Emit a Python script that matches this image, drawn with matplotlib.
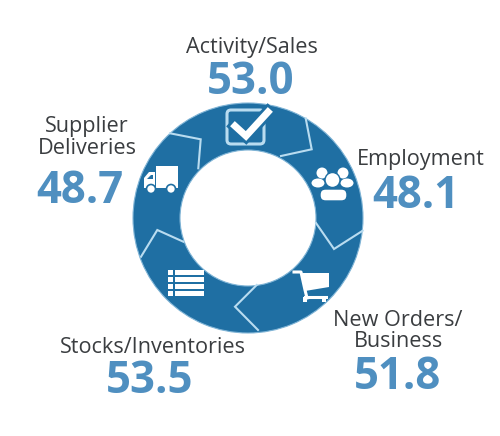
import numpy as np
import matplotlib
matplotlib.use("Agg")
import matplotlib.pyplot as plt
from matplotlib.patches import Circle, Wedge, Rectangle, FancyBboxPatch, Ellipse, Polygon

categories = ["Activity/Sales", "Employment", "New Orders/\nBusiness", "Stocks/Inventories", "Supplier\nDeliveries"]
values = [53.0, 48.1, 51.8, 53.5, 48.7]

label_xy = [(252, 47), (421, 159.5), (398, 331), (153, 347), (87, 137.5)]
value_xy = [(250.5, 82.5), (416, 196), (397, 377), (150, 381), (80, 191.5)]

RING = "#1f6fa3"
EDGE = "#b9dcf0"
VALUE = "#4f8fc0"
TEXT = "#3a3d40"
cx, cy, R, r = 248, 218, 115, 68

plt.rcParams["font.family"] = ["Open Sans", "DejaVu Sans"]
fig = plt.figure(figsize=(5, 4.36), dpi=100)
ax = fig.add_axes([0, 0, 1, 1])
ax.set_xlim(0, 500)
ax.set_ylim(436, 0)
ax.axis("off")

ax.add_patch(Wedge((cx, cy), R, 0, 360, width=R - r, facecolor=RING, edgecolor="#7fb4d6", lw=0.8))

dividers = [
    [(281, 156), (311.7, 149.3), (305.7, 118.3)],
    [(316, 223), (334, 249), (362.7, 230.7)],
    [(256.7, 285), (235, 306.7), (258, 330)],
    [(183.3, 241.7), (157.3, 230), (141, 256.7)],
    [(198.3, 168.3), (200.7, 139.3), (170, 133.3)],
]
for d in dividers:
    xs, ys = zip(*d)
    ax.plot(xs, ys, color=EDGE, lw=1.5, solid_joinstyle="miter", zorder=3)

W = "white"
# checkbox icon
ax.add_patch(FancyBboxPatch((227, 110), 37, 34, boxstyle="round,pad=0,rounding_size=4",
                            fc="none", ec=EDGE, lw=2.2, zorder=4))
ax.plot([235, 246, 268], [126, 136, 112], color=RING, lw=9, solid_joinstyle="miter", zorder=4.5)
ax.plot([235, 246, 268], [126, 136, 112], color=W, lw=5, solid_joinstyle="miter", zorder=5)

# truck icon
ax.add_patch(Rectangle((156, 166), 22, 22, fc=W, ec="none", zorder=4))
ax.add_patch(Polygon([(144, 188), (144, 178), (149, 172), (155, 172), (155, 188)], fc=W, ec="none", zorder=4))
ax.add_patch(Polygon([(147, 179), (151, 175), (153, 175), (153, 179)], fc=RING, ec="none", zorder=5))
for x0 in (151, 171):
    ax.add_patch(Circle((x0, 189), 4.5, fc=W, ec=RING, lw=1.2, zorder=6))

# people icon
for x0, bx in [(322, 318), (343, 347)]:
    ax.add_patch(Circle((x0, 173), 5.5, fc=W, ec="none", zorder=4))
    ax.add_patch(Ellipse((bx, 183), 13, 9, fc=W, ec="none", zorder=4))
ax.add_patch(Circle((332.5, 180), 7.5, fc=W, ec=RING, lw=1, zorder=5))
ax.add_patch(FancyBboxPatch((320, 189), 27, 12, boxstyle="round,pad=0,rounding_size=5.5",
                            fc=W, ec=RING, lw=1, zorder=5))

# cart icon
ax.plot([294, 301, 305, 307], [272, 272, 290, 298], color=W, lw=2.2, zorder=4)
ax.add_patch(Polygon([(302, 273), (329, 273), (329, 287), (305, 291)], fc=W, ec="none", zorder=4))
ax.plot([305, 326], [297, 297], color=W, lw=2.2, zorder=4)
for x0 in (305, 324):
    ax.add_patch(Rectangle((x0 - 2, 297), 4, 4.5, fc=W, ec="none", zorder=4))

# list icon
for y0 in (272, 279, 286, 293):
    ax.add_patch(Rectangle((168, y0 - 2), 5, 4.5, fc=W, ec="none", zorder=4))
    ax.add_patch(Rectangle((174.5, y0 - 2), 29, 4.5, fc=W, ec="none", zorder=4))

for name, v, (lx, ly), (vx, vy) in zip(categories, values, label_xy, value_xy):
    ax.text(lx, ly, name, ha="center", va="center", fontsize=15.6, color=TEXT, linespacing=1.02)
    ax.text(vx, vy, f"{v:.1f}", ha="center", va="center", fontsize=31.5, fontweight="bold", color=VALUE)

fig.savefig("out.png", dpi=100)
